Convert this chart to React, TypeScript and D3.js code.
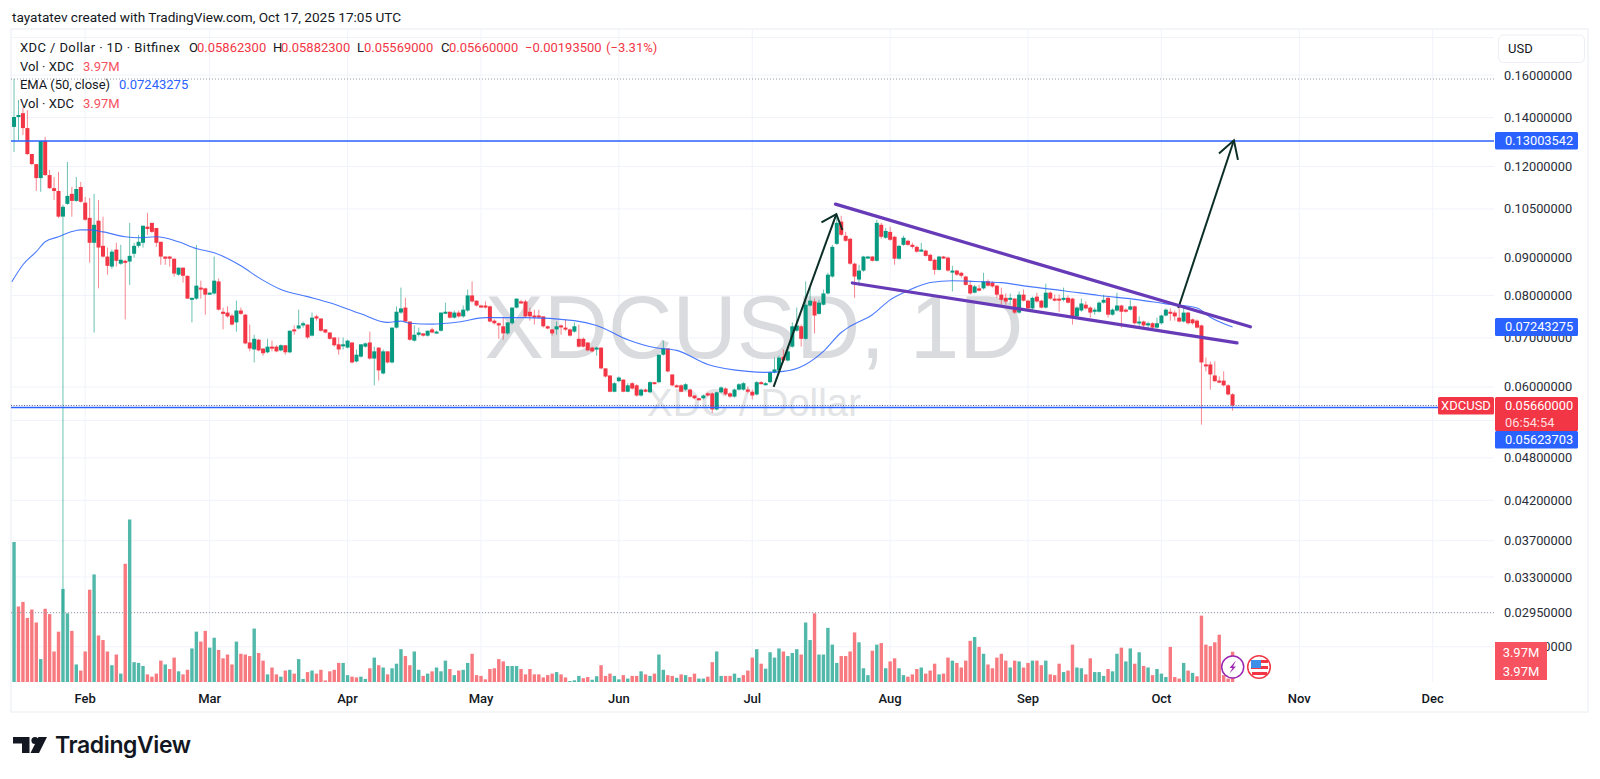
import React from 'react';
import * as d3 from 'd3';

// daily candles, first bar is Jan 16 2025, last is Oct 17 2025
const opens = [
  .1359,.1402,.1419,.1354,.1248,.1209,.1157,.1300,.1168,.1121,
  .1111,.1025,.1067,.1101,.1077,.1125,.1071,.1021,.0944,.1012,
  .0935,.0904,.0876,.0924,.0884,.0892,.0890,.0912,.0935,.0944,
  .0993,.1005,.0989,.0947,.0904,.0904,.0898,.0854,.0873,.0851,
  .0792,.0792,.0820,.0818,.0805,.0805,.0836,.0760,.0758,.0751,
  .0735,.0763,.0753,.0690,.0675,.0696,.0677,.0669,.0681,.0681,
  .0673,.0684,.0669,.0719,.0721,.0728,.0730,.0705,.0749,.0744,
  .0719,.0712,.0701,.0686,.0684,.0679,.0690,.0650,.0660,.0681,
  .0690,.0656,.0679,.0626,.0671,.0648,.0723,.0758,.0770,.0737,
  .0694,.0707,.0710,.0705,.0719,.0712,.0716,.0758,.0760,.0746,
  .0758,.0749,.0763,.0800,.0787,.0775,.0775,.0773,.0739,.0733,
  .0726,.0710,.0733,.0770,.0785,.0785,.0760,.0751,.0751,.0749,
  .0726,.0719,.0719,.0728,.0723,.0719,.0714,.0698,.0698,.0690,
  .0679,.0675,.0679,.0636,.0622,.0591,.0611,.0614,.0591,.0607,
  .0603,.0584,.0595,.0590,.0609,.0609,.0664,.0677,.0624,.0603,
  .0603,.0595,.0595,.0584,.0579,.0579,.0588,.0588,.0559,.0590,
  .0597,.0588,.0582,.0595,.0595,.0595,.0591,.0586,.0609,.0606,
  .0609,.0628,.0632,.0660,.0652,.0681,.0716,.0726,.0698,.0775,
  .0785,.0755,.0777,.0805,.0849,.0941,.1009,.0965,.0956,.0884,
  .0841,.0865,.0901,.0904,.0892,.0999,.0959,.0977,.0962,.0898,
  .0938,.0950,.0938,.0932,.0921,.0921,.0909,.0895,.0867,.0904,
  .0901,.0862,.0865,.0859,.0849,.0827,.0807,.0818,.0818,.0836,
  .0833,.0825,.0802,.0794,.0789,.0792,.0758,.0802,.0787,.0768,
  .0797,.0787,.0770,.0807,.0792,.0792,.0789,.0794,.0792,.0749,
  .0763,.0777,.0770,.0760,.0760,.0782,.0794,.0753,.0763,.0775,
  .0765,.0765,.0773,.0735,.0737,.0728,.0733,.0723,.0733,.0751,
  .0760,.0758,.0746,.0737,.0758,.0742,.0739,.0728,.0644,.0644,
  .0622,.0612,.0612,.0603,.05862,
];
const highs = [
  .1580,.1479,.1442,.1433,.1248,.1209,.1300,.1317,.1187,.1161,
  .1180,.1064,.1217,.1125,.1161,.1143,.1090,.1087,.1101,.1080,
  .1025,.0930,.0924,.0944,.0938,.0895,.1005,.0944,.0968,.0996,
  .1037,.1005,.0989,.0947,.0904,.0906,.0898,.0873,.0873,.0851,
  .0794,.0938,.0838,.0820,.0807,.0904,.0844,.0770,.0773,.0755,
  .0787,.0770,.0755,.0730,.0707,.0698,.0677,.0698,.0694,.0684,
  .0686,.0684,.0716,.0728,.0765,.0737,.0730,.0758,.0753,.0744,
  .0719,.0712,.0701,.0701,.0701,.0696,.0690,.0675,.0686,.0690,
  .0714,.0681,.0679,.0675,.0671,.0723,.0773,.0820,.0794,.0737,
  .0728,.0723,.0710,.0716,.0723,.0716,.0758,.0782,.0760,.0763,
  .0763,.0775,.0815,.0836,.0787,.0777,.0785,.0775,.0742,.0735,
  .0746,.0735,.0770,.0792,.0789,.0789,.0770,.0765,.0765,.0749,
  .0728,.0719,.0737,.0730,.0742,.0721,.0735,.0730,.0701,.0690,
  .0681,.0681,.0679,.0636,.0622,.0609,.0620,.0614,.0607,.0609,
  .0605,.0597,.0597,.0611,.0609,.0664,.0694,.0677,.0624,.0605,
  .0605,.0607,.0597,.0584,.0580,.0586,.0590,.0590,.0591,.0601,
  .0599,.0590,.0597,.0607,.0609,.0601,.0595,.0611,.0611,.0609,
  .0630,.0658,.0662,.0675,.0679,.0735,.0770,.0730,.0836,.0820,
  .0792,.0789,.0815,.0859,.0938,.1034,.1028,.0977,.0959,.0887,
  .0881,.0906,.0906,.0906,.1015,.1005,.0989,.0993,.0965,.0938,
  .0965,.0953,.0944,.0935,.0944,.0924,.0912,.0898,.0906,.0906,
  .0904,.0878,.0867,.0862,.0851,.0838,.0827,.0827,.0859,.0841,
  .0836,.0827,.0820,.0805,.0805,.0794,.0810,.0815,.0789,.0797,
  .0807,.0789,.0830,.0810,.0802,.0802,.0820,.0800,.0794,.0773,
  .0792,.0785,.0773,.0770,.0785,.0802,.0797,.0768,.0807,.0777,
  .0768,.0789,.0775,.0749,.0739,.0737,.0735,.0746,.0753,.0768,
  .0768,.0763,.0768,.0768,.0760,.0744,.0742,.0730,.0658,.0650,
  .0650,.0620,.0630,.0605,.05882,
];
const lows = [
  .1256,.1304,.1325,.1244,.1206,.1111,.1108,.1165,.1118,.1080,
  .1021,.0295,.1064,.1025,.1074,.1071,.1012,.0887,.0712,.0818,
  .0901,.0854,.0870,.0876,.0881,.0742,.0827,.0901,.0930,.0930,
  .0968,.0974,.0932,.0881,.0881,.0876,.0849,.0851,.0833,.0792,
  .0735,.0789,.0792,.0753,.0802,.0802,.0763,.0719,.0746,.0728,
  .0714,.0753,.0686,.0671,.0648,.0671,.0662,.0667,.0671,.0669,
  .0671,.0664,.0667,.0707,.0719,.0723,.0698,.0703,.0739,.0714,
  .0710,.0696,.0681,.0664,.0675,.0677,.0646,.0648,.0658,.0679,
  .0654,.0603,.0612,.0624,.0646,.0646,.0721,.0755,.0735,.0694,
  .0692,.0703,.0703,.0703,.0710,.0710,.0714,.0755,.0744,.0744,
  .0746,.0746,.0760,.0782,.0773,.0770,.0768,.0735,.0730,.0698,
  .0696,.0707,.0730,.0768,.0780,.0746,.0739,.0730,.0744,.0723,
  .0719,.0705,.0707,.0707,.0716,.0703,.0712,.0679,.0679,.0671,
  .0669,.0662,.0634,.0618,.0590,.0590,.0609,.0590,.0590,.0595,
  .0582,.0582,.0590,.0588,.0605,.0607,.0662,.0628,.0601,.0599,
  .0590,.0593,.0580,.0577,.0575,.0577,.0582,.0553,.0557,.0588,
  .0584,.0580,.0580,.0593,.0593,.0588,.0577,.0584,.0605,.0603,
  .0607,.0626,.0630,.0648,.0650,.0679,.0714,.0681,.0696,.0773,
  .0710,.0753,.0775,.0802,.0846,.0938,.0965,.0947,.0881,.0794,
  .0825,.0862,.0898,.0890,.0890,.0956,.0956,.0950,.0881,.0895,
  .0935,.0935,.0927,.0915,.0918,.0904,.0890,.0854,.0865,.0898,
  .0862,.0810,.0851,.0846,.0825,.0802,.0805,.0810,.0815,.0823,
  .0820,.0794,.0777,.0777,.0777,.0755,.0755,.0785,.0760,.0760,
  .0782,.0768,.0768,.0789,.0785,.0760,.0785,.0780,.0730,.0746,
  .0760,.0765,.0746,.0753,.0758,.0780,.0746,.0751,.0760,.0723,
  .0758,.0763,.0730,.0726,.0723,.0719,.0721,.0721,.0730,.0749,
  .0739,.0739,.0735,.0735,.0730,.0730,.0721,.0533,.0630,.0595,
  .0609,.0607,.0601,.0584,.05569,
];
const closes = [
  .1402,.1411,.1354,.1248,.1209,.1157,.1300,.1168,.1121,.1111,
  .1025,.1057,.1094,.1077,.1118,.1074,.1015,.0944,.0999,.0930,
  .0904,.0878,.0918,.0892,.0895,.0887,.0906,.0935,.0947,.0996,
  .0986,.0977,.0944,.0904,.0898,.0898,.0857,.0873,.0851,.0792,
  .0794,.0825,.0815,.0802,.0807,.0838,.0765,.0755,.0749,.0730,
  .0763,.0755,.0688,.0677,.0698,.0673,.0667,.0681,.0679,.0671,
  .0684,.0669,.0716,.0716,.0728,.0733,.0701,.0746,.0744,.0716,
  .0712,.0698,.0684,.0675,.0686,.0694,.0648,.0664,.0686,.0688,
  .0656,.0671,.0632,.0671,.0648,.0723,.0760,.0768,.0737,.0696,
  .0707,.0712,.0705,.0716,.0712,.0714,.0758,.0760,.0746,.0758,
  .0749,.0765,.0800,.0785,.0775,.0773,.0770,.0737,.0733,.0728,
  .0710,.0735,.0770,.0792,.0782,.0749,.0749,.0749,.0749,.0726,
  .0721,.0710,.0726,.0726,.0719,.0705,.0726,.0681,.0681,.0673,
  .0671,.0679,.0636,.0620,.0591,.0607,.0618,.0591,.0603,.0597,
  .0584,.0595,.0591,.0609,.0607,.0664,.0677,.0630,.0603,.0601,
  .0591,.0605,.0582,.0579,.0577,.0584,.0584,.0559,.0590,.0599,
  .0586,.0582,.0595,.0605,.0607,.0591,.0584,.0609,.0607,.0607,
  .0628,.0634,.0658,.0652,.0671,.0726,.0728,.0698,.0777,.0787,
  .0751,.0782,.0805,.0854,.0932,.1005,.0968,.0950,.0884,.0849,
  .0865,.0904,.0904,.0892,.1005,.0962,.0980,.0953,.0898,.0935,
  .0959,.0938,.0932,.0918,.0924,.0906,.0892,.0867,.0904,.0901,
  .0865,.0865,.0854,.0851,.0827,.0805,.0823,.0812,.0836,.0825,
  .0823,.0802,.0789,.0785,.0794,.0758,.0802,.0787,.0768,.0794,
  .0785,.0770,.0807,.0792,.0787,.0787,.0794,.0782,.0746,.0770,
  .0780,.0768,.0758,.0765,.0782,.0789,.0753,.0765,.0775,.0760,
  .0763,.0773,.0733,.0737,.0728,.0733,.0723,.0733,.0751,.0765,
  .0758,.0749,.0737,.0758,.0733,.0733,.0723,.0648,.0640,.0624,
  .0611,.0611,.0603,.0586,.0566,
];

// volume in millions, with its colour ("g"/"r") as drawn in the pane
const volumes = [
  18.35,9.9,10.5,8.4,9.5,7.8,3.0,9.6,8.9,4.0,
  6.6,12.2,9.0,6.7,2.3,1.5,4.0,12.1,14.1,6.1,
  5.5,4.0,2.2,3.6,1.1,15.5,21.3,2.6,2.5,2.1,
  1.0,.7,1.1,2.8,2.3,1.7,3.2,1.4,1.0,1.6,
  4.4,6.6,5.3,6.7,4.5,5.8,4.2,3.1,3.6,2.3,
  5.3,3.7,3.6,3.4,7.0,3.8,2.8,1.0,1.9,1.0,
  .7,1.5,1.6,1.1,3.0,.4,1.3,1.5,1.1,1.6,
  .2,1.4,1.6,2.5,2.5,.9,.7,.6,.7,.4,
  1.8,3.2,2.2,1.9,1.0,1.8,2.4,4.3,3.4,2.2,
  4.0,1.6,.8,1.1,1.4,1.9,1.4,2.8,1.7,.9,
  1.5,1.6,2.5,3.7,.9,.8,.35,1.7,1.8,3.0,
  2.7,2.1,2.1,2.1,1.7,1.0,1.7,1.0,1.0,.6,
  .9,1.1,1.3,1.0,.6,.13,.22,.8,.5,.65,
  .3,.75,2.2,.8,1.1,.8,.35,.9,.45,.8,
  .8,1.4,1.0,.8,1.1,3.6,1.6,.9,.8,.55,
  1.0,.9,.65,1.1,.45,.45,.7,2.6,4.0,.8,
  .8,.8,1.1,.55,.9,1.5,3.2,4.3,2.4,1.75,
  3.9,3.2,4.4,4.0,3.4,3.8,4.3,3.6,7.8,5.5,
  9.0,3.6,3.6,7.1,4.9,2.5,3.4,3.4,4.0,6.5,
  5.2,1.8,.9,4.1,4.9,5.1,1.8,2.7,3.1,1.8,
  .9,.7,1.0,1.7,1.9,1.1,1.5,2.4,1.0,1.1,
  3.2,2.8,2.5,1.9,2.8,5.4,5.9,4.6,3.7,2.3,
  1.8,3.2,3.7,2.8,1.9,2.8,2.7,1.9,2.5,2.8,
  2.8,2.2,2.8,1.0,.9,2.4,1.3,1.5,4.9,1.9,
  1.8,1.0,3.1,1.3,1.3,.8,1.7,1.4,3.7,4.5,
  2.7,4.4,2.4,3.9,2.1,1.9,.9,1.7,1.1,.65,
  4.6,.65,.45,2.5,1.5,1.2,.75,8.7,4.9,4.7,
  5.2,6.2,.9,.45,3.97,
];
const volumeSides =
  'grrrrrgrrr' + 'rggrgrrrgr' + 'rrgrgrgggg' + 'rrrrgrrgrr' + 'ggrrggrrrr' +
  'grrrgrrgrr' + 'grgrggrgrr' + 'rrrrggrrgg' + 'rgrgrgggrr' + 'ggrgrgggrg' +
  'rggrrrrrrr' + 'rgggrrrrrr' + 'rrgrrgggrr' + 'ggrrrggrgr' + 'rgrgrggrrg' +
  'rgrrggrrgg' + 'rrggrrrgrg' + 'gggrgggrgg' + 'rgggggrrrr' + 'gggrgrgrrg' +
  'grrrgrrrgr' + 'rgrrrrgrgr' + 'rrrrgrgrrg' + 'rrgrrrgrrg' + 'grrgggrggr' +
  'ggrgrgrggg' + 'rrrgrgrrrr' + 'rrrrr';

// EMA(50): bar number and value
const emaBars = [-0.5,2,5,7,10,13,15,17,20,25,28,32,37,41,45,51,55,60,66,71,78,84,87,89,94,100,106,115,126,131,138,144,149,156,165,169,173,178,182,186,188,193,197,201,206,211,216,222,228,236,244,253,259,266,269,274];
const emaValues = [.0835,.0881,.0918,.0947,.0962,.0978,.0983,.0983,.0977,.0962,.0959,.0962,.0947,.0927,.0915,.0878,.0846,.0815,.0797,.0782,.0755,.0735,.0738,.0733,.0731,.0736,.0746,.0746,.0739,.0728,.0696,.0679,.0673,.0644,.0630,.0628,.0630,.0644,.0671,.0712,.0726,.0753,.0789,.0812,.0833,.0838,.0836,.0833,.0823,.0812,.0800,.0789,.0779,.0769,.0747,.07243];

const priceTicks = [.16,.14,.12,.105,.09,.08,.07,.06,.048,.042,.037,.033,.0295,.0265];
const hiddenGridTicks = [.18,.054];
const monthStarts = ['2025-02-01','2025-03-01','2025-04-01','2025-05-01','2025-06-01','2025-07-01','2025-08-01','2025-09-01','2025-10-01','2025-11-01','2025-12-01'];

const target = .13003542;
const support = .05623703;
const lastPrice = .0566;
const emaLast = .07243275;
const chartHigh = .158;
const chartLow = .0295;

// drawings: [bar, price] end points
const upperTrend = [[184.7,.1066],[278,.0725]];
const lowerTrend = [[188.5,.0832],[275,.0689]];
const moveArrow = [[170.8,.0600],[184.9,.1033]];
const targetArrow = [[261.8,.0769],[274.3,.1303]];

const legendLine = [
  { t: 'O', x: 189, c: '#131722' }, { t: '0.05862300', x: 197, c: '#f23645' },
  { t: 'H', x: 273, c: '#131722' }, { t: '0.05882300', x: 281, c: '#f23645' },
  { t: 'L', x: 357, c: '#131722' }, { t: '0.05569000', x: 364, c: '#f23645' },
  { t: 'C', x: 441, c: '#131722' }, { t: '0.05660000', x: 449, c: '#f23645' },
  { t: '−0.00193500', x: 525, c: '#f23645' }, { t: '(−3.31%)', x: 606, c: '#f23645' },
];

const UP = '#089981';
const DOWN = '#f23645';
const BLUE = '#2962ff';
const PURPLE = '#673ab7';
const GRID = '#f0f3fa';
const FONT = 'Roboto, sans-serif';

const plot = { left: 11, top: 29, right: 1494, bottom: 682, frameRight: 1588, frameBottom: 712 };

const firstBar = new Date(Date.UTC(2025, 0, 16));
const barDate = (i: number) => new Date(firstBar.getTime() + i * 86400000);

const x = d3.scaleUtc()
  .domain([new Date('2025-02-01T00:00Z'), new Date('2025-12-01T00:00Z')])
  .range([85.2, 1432.7]);
const y = d3.scaleLog().domain([.16, .0295]).range([75, 612.7]);
const vol = d3.scaleLinear().domain([0, 21.3]).range([plot.bottom, 519.5]);

const barX = (i: number) => x(barDate(i));
const ptX = (p: number[]) => barX(p[0]);
const ptY = (p: number[]) => y(p[1]);

function Arrow({ pts, barb, spread }: { pts: number[][]; barb: number; spread: number }) {
  const [a, b] = pts;
  const ang = Math.atan2(ptY(a) - ptY(b), ptX(a) - ptX(b));
  const r = (spread * Math.PI) / 180;
  const tipX = ptX(b);
  const tipY = ptY(b);
  const d1 = `M${tipX + barb * Math.cos(ang + r)},${tipY + barb * Math.sin(ang + r)}L${tipX},${tipY}L${tipX + barb * Math.cos(ang - r)},${tipY + barb * Math.sin(ang - r)}`;
  return (
    <g fill="none" stroke="#0b2f26" strokeWidth={2}>
      <line x1={ptX(a)} y1={ptY(a)} x2={tipX} y2={tipY} />
      <path d={d1} />
    </g>
  );
}

function PriceTag({ y: cy, h, fill, text, sub }: { y: number; h: number; fill: string; text: string; sub?: string }) {
  return (
    <g>
      <rect x={1495} y={cy} width={83} height={h} rx={1.5} fill={fill} />
      <text x={1505} y={cy + 8.5} dominantBaseline="central" fill="#fff" fontSize={12.8}>{text}</text>
      {sub && <text x={1505} y={cy + 25} dominantBaseline="central" fill="#fff" fillOpacity={0.85} fontSize={12.8}>{sub}</text>}
    </g>
  );
}

export default function App() {
  const emaLine = d3.line<number>()
    .x((_, i) => barX(emaBars[i]))
    .y(d => y(d))
    .curve(d3.curveMonotoneX)(emaValues);

  const gridPrices = [...hiddenGridTicks, ...priceTicks];
  const months = monthStarts.map(d => new Date(d + 'T00:00Z'));
  const fmtMonth = d3.utcFormat('%b');

  return (
    <svg width={1600} height={779} style={{ position: 'absolute', left: 0, top: 0, display: 'block', background: '#fff' }} fontFamily={FONT}>
      <text x={12} y={17} dominantBaseline="central" fontSize={13.6} fill="#131722">tayatatev created with TradingView.com, Oct 17, 2025 17:05 UTC</text>

      <rect x={plot.left} y={plot.top} width={plot.frameRight - plot.left} height={plot.frameBottom - plot.top} fill="#fff" stroke="#e9ecf2" />

      {gridPrices.map(p => (
        <line key={p} x1={plot.left} x2={plot.right} y1={y(p)} y2={y(p)} stroke={GRID} />
      ))}
      {months.map(m => (
        <line key={+m} x1={x(m)} x2={x(m)} y1={plot.top} y2={plot.bottom} stroke={GRID} />
      ))}

      <g fontFamily="'Liberation Sans', Arial, sans-serif" textAnchor="middle">
        <text x={754} y={358} fontSize={89} fill="#d9dbde">XDCUSD, 1D</text>
        <text x={754} y={416} fontSize={38.5} fill="#e3e4e6">XDC / Dollar</text>
      </g>

      {volumes.map((v, i) => (
        <rect key={i} x={barX(i) - 1.7} width={3.4} y={vol(v)} height={plot.bottom - vol(v)}
          fill={volumeSides[i] === 'g' ? '#52b8aa' : '#f77a80'} />
      ))}

      <line x1={plot.left} x2={plot.right} y1={y(chartHigh)} y2={y(chartHigh)} stroke="#9598a1" strokeDasharray="1 2" />
      <line x1={plot.left} x2={plot.right} y1={y(chartLow)} y2={y(chartLow)} stroke="#9598a1" strokeDasharray="1 2" />

      {closes.map((c, i) => {
        const o = opens[i];
        const col = c >= o ? UP : DOWN;
        const top = y(Math.max(o, c));
        const bot = y(Math.min(o, c));
        return (
          <g key={i}>
            <line x1={barX(i)} x2={barX(i)} y1={y(highs[i])} y2={y(lows[i])} stroke={col} strokeOpacity={0.6} />
            <rect x={barX(i) - 2} width={4} y={top} height={Math.max(bot - top, 2)} fill={col} />
          </g>
        );
      })}

      <path d={emaLine ?? ''} fill="none" stroke={BLUE} strokeOpacity={0.85} strokeWidth={1.1} />

      <line x1={plot.left} x2={plot.right} y1={y(target)} y2={y(target)} stroke={BLUE} strokeWidth={1.6} />
      <line x1={plot.left} x2={plot.right} y1={y(support)} y2={y(support)} stroke={BLUE} strokeWidth={1.6} />
      <line x1={plot.left} x2={plot.right} y1={y(lastPrice)} y2={y(lastPrice)} stroke="#4f5f96" strokeDasharray="1 1.6" />

      <Arrow pts={moveArrow} barb={17} spread={41} />
      <Arrow pts={targetArrow} barb={20} spread={30} />
      {[upperTrend, lowerTrend].map((t, i) => (
        <line key={i} x1={ptX(t[0])} y1={ptY(t[0])} x2={ptX(t[1])} y2={ptY(t[1])} stroke={PURPLE} strokeWidth={3.2} strokeLinecap="round" />
      ))}

      {priceTicks.map(p => (
        <text key={p} x={1504} y={y(p)} dominantBaseline="central" fontSize={12.8} fill="#2a2e39">{p.toFixed(8)}</text>
      ))}

      <rect x={1498.5} y={35} width={86} height={27.5} rx={5} fill="#fff" stroke="#eceef3" />
      <text x={1508} y={48.5} dominantBaseline="central" fontSize={13} fill="#131722">USD</text>

      <PriceTag y={132} h={17.5} fill={BLUE} text={target.toFixed(8)} />
      <PriceTag y={318} h={18} fill={BLUE} text={emaLast.toFixed(8)} />
      <PriceTag y={397} h={34} fill={DOWN} text={lastPrice.toFixed(8)} sub="06:54:54" />
      <PriceTag y={431} h={17.5} fill={BLUE} text={support.toFixed(8)} />
      <rect x={1438} y={397} width={56} height={17.5} rx={1.5} fill={DOWN} />
      <text x={1466} y={405.8} textAnchor="middle" dominantBaseline="central" fontSize={13} fill="#fff">XDCUSD</text>

      <rect x={1495} y={642} width={52} height={38} fill="#f7525f" />
      <text x={1521} y={652} textAnchor="middle" dominantBaseline="central" fontSize={13} fill="#fff">3.97M</text>
      <text x={1521} y={671} textAnchor="middle" dominantBaseline="central" fontSize={13} fill="#fff">3.97M</text>

      {months.map(m => (
        <text key={+m} x={x(m)} y={698} textAnchor="middle" dominantBaseline="central" fontSize={13} fontWeight={500} fill="#131722">{fmtMonth(m)}</text>
      ))}

      {/* calendar markers */}
      <circle cx={1232.7} cy={667} r={11} fill="#fff" stroke="#9c27b0" strokeWidth={1.5} />
      <path d="M1236,660.5L1229.5,668L1232.5,668L1229.5,673.5L1236,666.5L1233,666.5Z" fill="#9c27b0" />
      <circle cx={1259} cy={667} r={11.3} fill="#fff" stroke="#f23645" strokeWidth={1.5} />
      <rect x={1251} y={660} width={17} height={3} fill="#f23645" />
      <rect x={1251} y={666} width={17} height={3} fill="#f23645" />
      <rect x={1252} y={672} width={15} height={3} fill="#f23645" />
      <rect x={1251} y={660} width={10} height={8} fill="#3d8fe8" />

      <g fontSize={13}>
        <text x={20} y={47.7} dominantBaseline="central" fill="#131722" textLength={160}>XDC / Dollar · 1D · Bitfinex</text>
        {legendLine.map(d => (
          <text key={d.t + d.x} x={d.x} y={47.7} dominantBaseline="central" fill={d.c}>{d.t}</text>
        ))}
        <text x={20} y={66} dominantBaseline="central" fill="#131722" textLength={54}>Vol · XDC</text>
        <text x={83} y={66} dominantBaseline="central" fill="#f7525f">3.97M</text>
        <text x={20} y={84.7} dominantBaseline="central" fill="#131722" textLength={90}>EMA (50, close)</text>
        <text x={119} y={84.7} dominantBaseline="central" fill={BLUE}>{emaLast.toFixed(8)}</text>
        <text x={20} y={103} dominantBaseline="central" fill="#131722" textLength={54}>Vol · XDC</text>
        <text x={83} y={103} dominantBaseline="central" fill="#f7525f">3.97M</text>
      </g>

      {/* TradingView logo */}
      <path d="M13,737H29.5V753H22V743.5H13Z" fill="#131722" />
      <circle cx={35} cy={740.5} r={3.6} fill="#131722" />
      <path d="M38.5,737H47L39,753H30.5Z" fill="#131722" />
      <text x={55} y={753} fontSize={23} fontWeight={600} fontFamily="Inter, Roboto, sans-serif" fill="#131722" letterSpacing={-0.4}>TradingView</text>
    </svg>
  );
}
